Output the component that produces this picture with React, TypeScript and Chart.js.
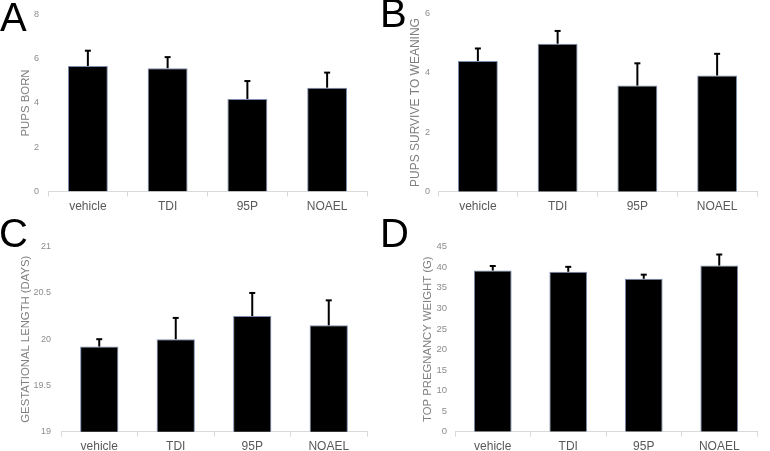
import React, { useEffect, useRef } from "react";
import { Chart, registerables } from "chart.js";

Chart.register(...registerables);

const groups = ["vehicle", "TDI", "95P", "NOAEL"];

const pupsBorn = [5.67, 5.57, 4.18, 4.69];
const pupsBornErr = [0.69, 0.5, 0.81, 0.68];
const pupsBornTicks = { min: 0, max: 8, step: 2 };

const pupsWeaning = [4.4, 4.98, 3.57, 3.91];
const pupsWeaningErr = [0.42, 0.43, 0.75, 0.73];
const pupsWeaningTicks = { min: 0, max: 6, step: 2 };

const gestation = [19.92, 20.0, 20.25, 20.15];
const gestationErr = [0.08, 0.23, 0.25, 0.27];
const gestationTicks = { min: 19, max: 21, step: 0.5 };

const weight = [39.2, 38.9, 37.2, 40.4];
const weightErr = [1.1, 1.2, 1.0, 2.7];
const weightTicks = { min: 0, max: 45, step: 5 };

const FONT = "'Liberation Sans', Arial, sans-serif";

const errorBarPlugin = {
  id: "errorBars",
  afterDatasetsDraw(chart: any) {
    const ctx = chart.ctx;
    const yScale = chart.scales.y;
    chart.data.datasets.forEach((ds: any, di: number) => {
      const meta = chart.getDatasetMeta(di);
      meta.data.forEach((el: any, i: number) => {
        const v = ds.data[i];
        const e = ds.errors[i];
        const yTop = yScale.getPixelForValue(v + e);
        ctx.save();
        ctx.strokeStyle = "#000";
        ctx.lineWidth = 2;
        ctx.beginPath();
        ctx.moveTo(el.x, el.y);
        ctx.lineTo(el.x, yTop);
        ctx.stroke();
        ctx.beginPath();
        ctx.moveTo(el.x - 3, yTop);
        ctx.lineTo(el.x + 3, yTop);
        ctx.stroke();
        ctx.restore();
      });
    });
  },
};

type PanelProps = {
  left: number;
  top: number;
  width: number;
  height: number;
  chartLeft: number;
  chartRight: number;
  chartTop: number;
  chartBottom: number;
  values: number[];
  errors: number[];
  ticks: { min: number; max: number; step: number };
  title: string;
  titleSize: number;
  titleCenter: number;
  tickSize: number;
  tickPad: number;
};

function Panel(p: PanelProps) {
  const ref = useRef<HTMLCanvasElement>(null);
  useEffect(() => {
    const half = (p.titleSize * 1.2) / 2;
    const chart = new Chart(ref.current as HTMLCanvasElement, {
      type: "bar",
      data: {
        labels: groups,
        datasets: [
          {
            data: p.values,
            errors: p.errors,
            backgroundColor: "#000000",
            borderColor: "#7d8db0",
            borderWidth: 1,
            barPercentage: 0.5,
            categoryPercentage: 1,
          } as any,
        ],
      },
      options: {
        responsive: false,
        animation: false,
        events: [],
        layout: {
          autoPadding: false,
          padding: { top: p.chartTop, right: p.width - p.chartRight, left: 0, bottom: 0 },
        } as any,
        plugins: { legend: { display: false }, tooltip: { enabled: false } },
        scales: {
          x: {
            grid: {
              display: true,
              drawOnChartArea: false,
              drawTicks: true,
              tickLength: 5,
              color: "#d9d9d9",
              offset: true,
            },
            border: { display: true, color: "#d9d9d9", width: 1 },
            ticks: {
              color: "#595959",
              font: { family: FONT, size: 12 },
              padding: 3,
              maxRotation: 0,
            },
            afterFit(scale: any) {
              scale.height = p.height - p.chartBottom;
            },
          },
          y: {
            min: p.ticks.min,
            max: p.ticks.max,
            grid: { display: false, drawTicks: false },
            border: { display: false },
            ticks: {
              stepSize: p.ticks.step,
              color: "#8c8c8c",
              font: { family: FONT, size: p.tickSize },
              padding: p.tickPad,
              callback: (v: any) => String(Math.round(Number(v) * 100) / 100),
            },
            title: {
              display: true,
              text: p.title,
              color: "#7f7f7f",
              font: { family: FONT, size: p.titleSize },
              padding: { top: p.titleCenter - half, bottom: 0 },
            },
            afterFit(scale: any) {
              scale.width = p.chartLeft;
            },
          },
        },
      },
      plugins: [errorBarPlugin],
    });
    return () => chart.destroy();
  }, []);
  return (
    <div style={{ position: "absolute", left: p.left, top: p.top, width: p.width, height: p.height }}>
      <canvas ref={ref} width={p.width} height={p.height} style={{ display: "block" }} />
    </div>
  );
}

const letterStyle: React.CSSProperties = {
  position: "absolute",
  fontFamily: FONT,
  fontSize: 40,
  lineHeight: "40px",
  color: "#000",
  zIndex: 2,
};

export default function App() {
  return (
    <div
      style={{
        position: "fixed",
        left: 0,
        top: 0,
        width: 770,
        height: 451,
        background: "#fff",
        overflow: "hidden",
      }}
    >
      <Panel
        left={0}
        top={0}
        width={385}
        height={225}
        chartLeft={48}
        chartRight={367}
        chartTop={5}
        chartBottom={191.5}
        values={pupsBorn}
        errors={pupsBornErr}
        ticks={pupsBornTicks}
        title="PUPS BORN"
        titleSize={11.4}
        titleCenter={25.5}
        tickSize={9}
        tickPad={9}
      />
      <Panel
        left={385}
        top={0}
        width={385}
        height={225}
        chartLeft={53}
        chartRight={372}
        chartTop={5}
        chartBottom={191.7}
        values={pupsWeaning}
        errors={pupsWeaningErr}
        ticks={pupsWeaningTicks}
        title="PUPS SURVIVE TO WEANING"
        titleSize={12}
        titleCenter={31}
        tickSize={9}
        tickPad={8}
      />
      <Panel
        left={0}
        top={225}
        width={385}
        height={226}
        chartLeft={61}
        chartRight={367}
        chartTop={21.7}
        chartBottom={206.7}
        values={gestation}
        errors={gestationErr}
        ticks={gestationTicks}
        title="GESTATIONAL LENGTH (DAYS)"
        titleSize={11.3}
        titleCenter={26}
        tickSize={9}
        tickPad={10}
      />
      <Panel
        left={385}
        top={225}
        width={385}
        height={226}
        chartLeft={70}
        chartRight={372}
        chartTop={21.7}
        chartBottom={206.7}
        values={weight}
        errors={weightErr}
        ticks={weightTicks}
        title="TOP PREGNANCY WEIGHT (G)"
        titleSize={11.3}
        titleCenter={43}
        tickSize={9.5}
        tickPad={8}
      />
      <div style={{ ...letterStyle, left: 0, top: -3 }}>A</div>
      <div style={{ ...letterStyle, left: 380, top: -7 }}>B</div>
      <div style={{ ...letterStyle, left: -1, top: 213 }}>C</div>
      <div style={{ ...letterStyle, left: 380, top: 213 }}>D</div>
    </div>
  );
}
